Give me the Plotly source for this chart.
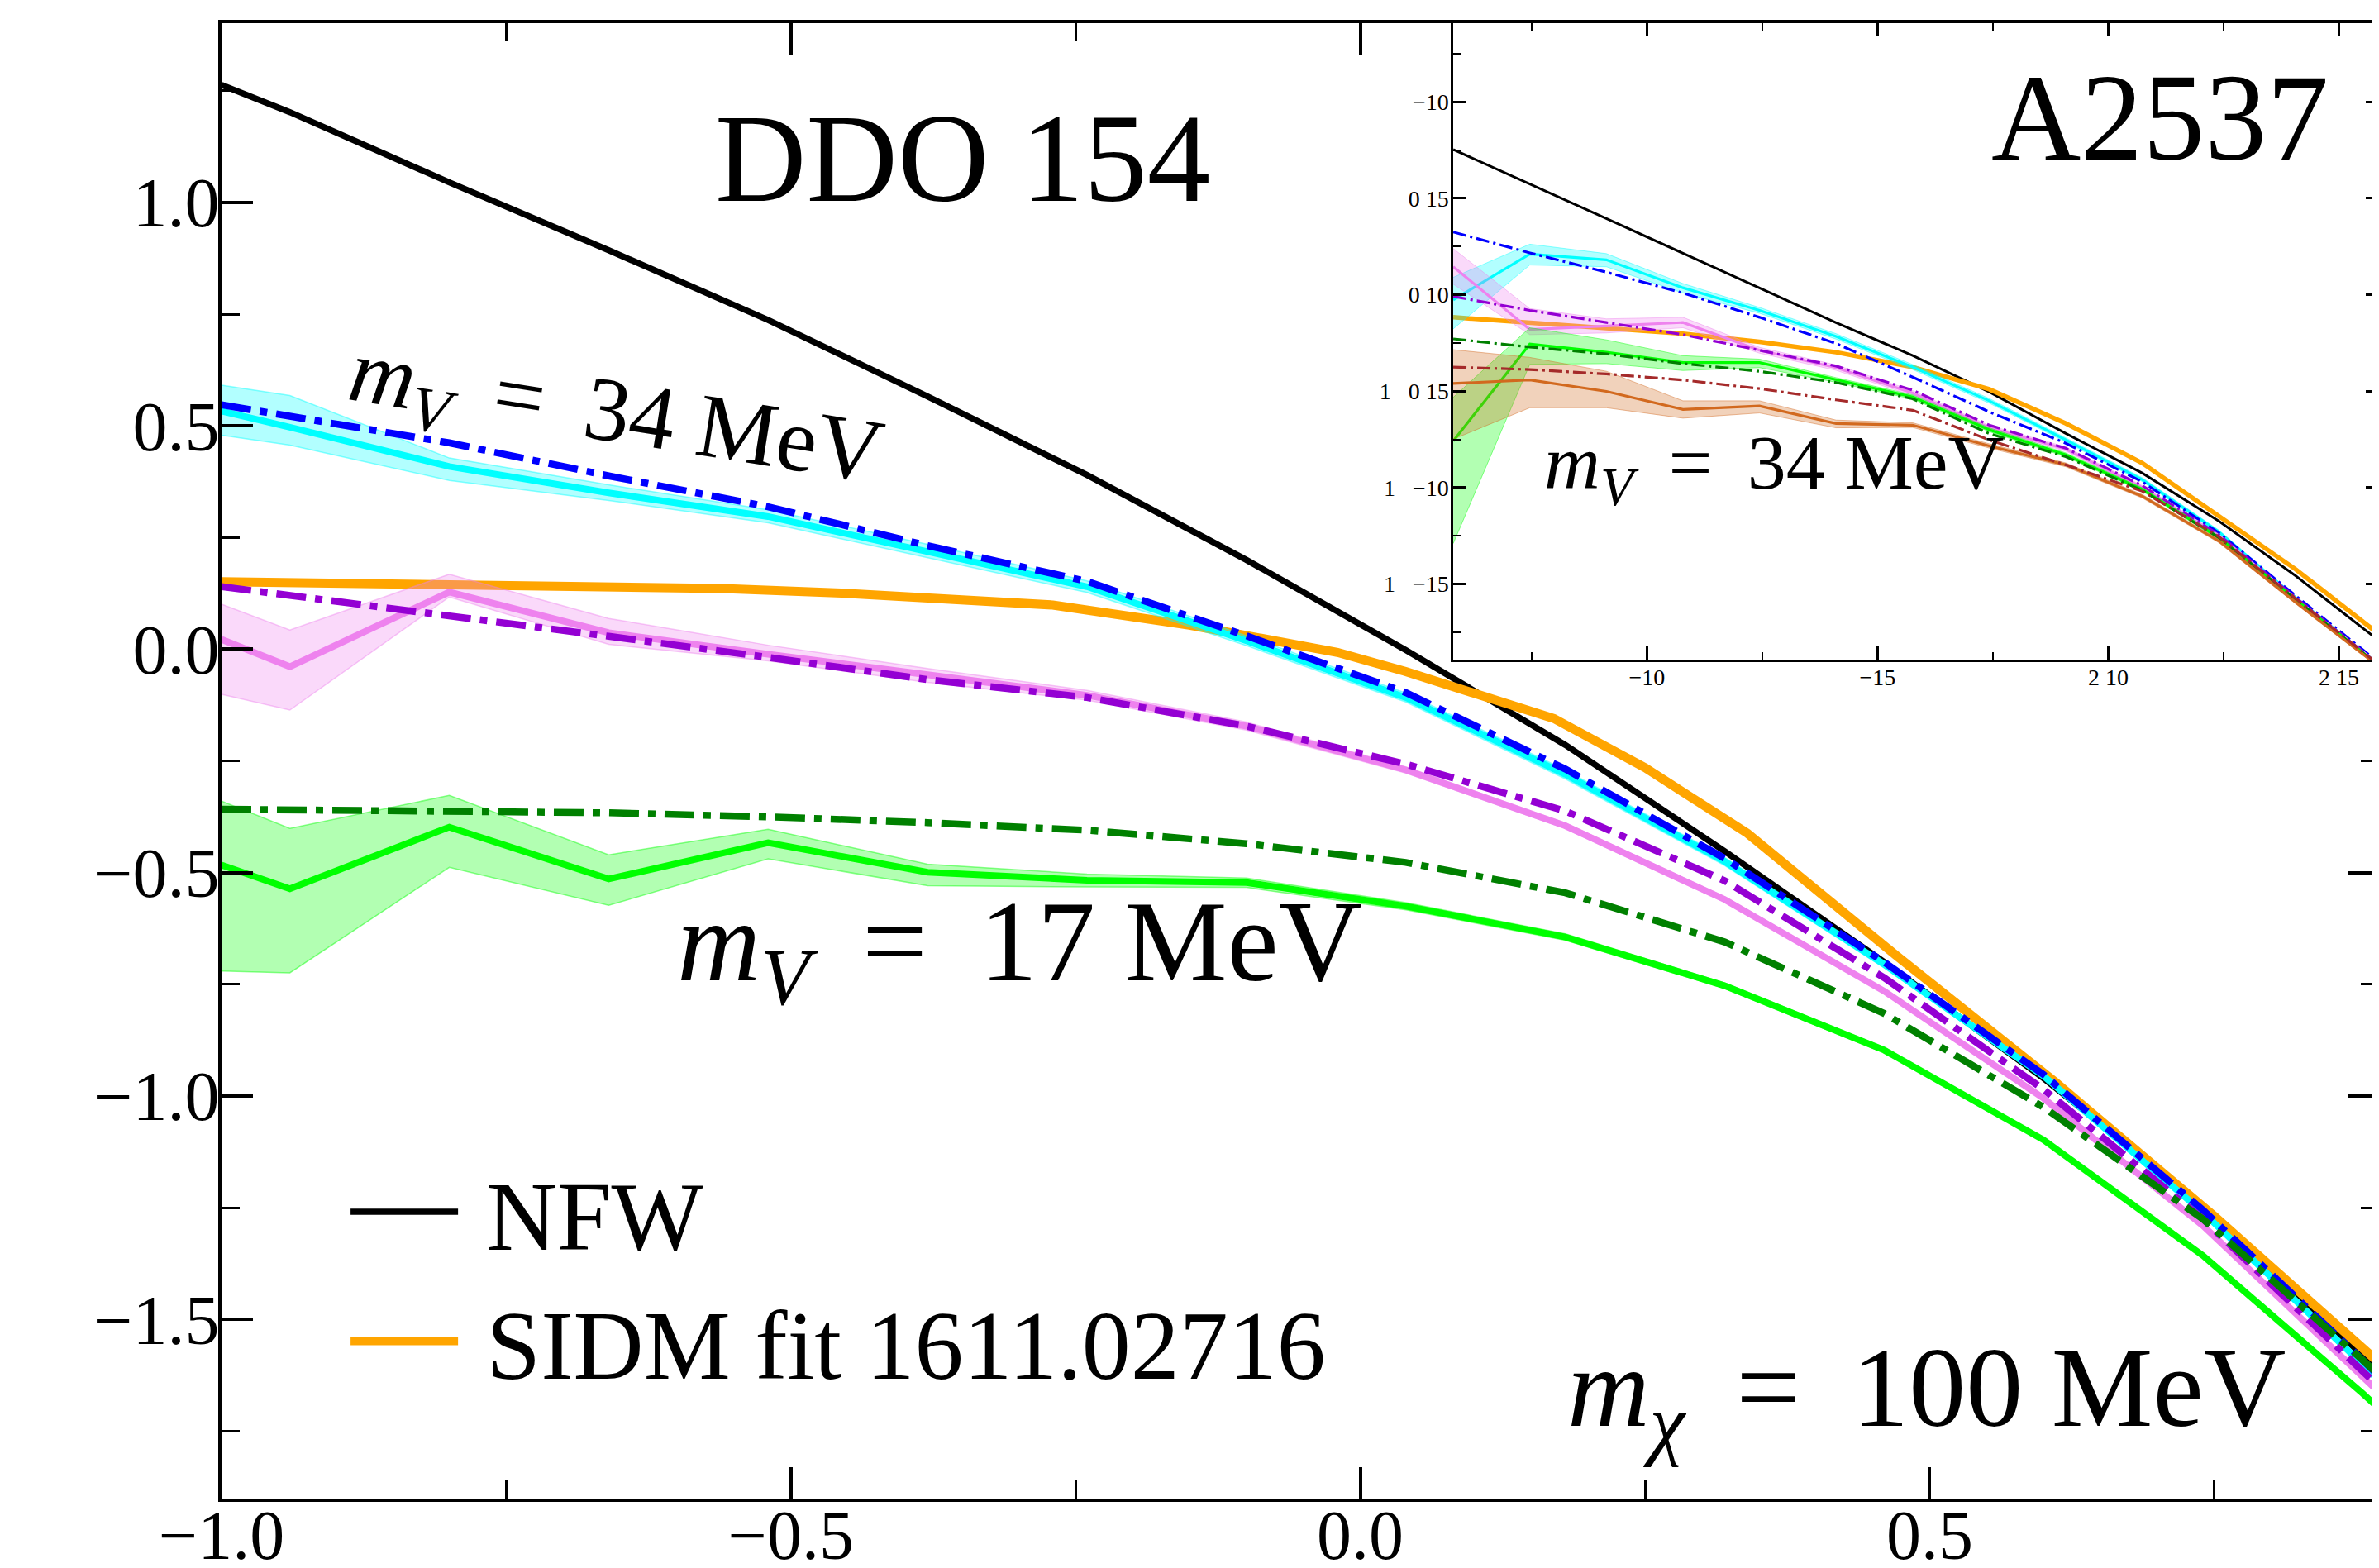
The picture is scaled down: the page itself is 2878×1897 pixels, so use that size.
import plotly.graph_objects as go

# ---------------- main panel : DDO 154 ----------------
x_main = [-1.0, -0.94, -0.80, -0.66, -0.52, -0.38, -0.24, -0.10, 0.04, 0.18, 0.32, 0.46, 0.60, 0.74, 0.88, 1.02]

nfw_main = [1.263, 1.202, 1.045, 0.893, 0.737, 0.566, 0.390, 0.200, -0.002, -0.214, -0.452, -0.700, -0.960, -1.245, -1.580, -1.920]

cyan_main = [0.533, 0.497, 0.409, 0.350, 0.297, 0.220, 0.140, 0.019, -0.108, -0.280, -0.475, -0.705, -0.955, -1.260, -1.600, -1.950]
cyan_hi = [0.591, 0.568, 0.428, 0.368, 0.312, 0.235, 0.153, 0.030, -0.098, -0.270, -0.466, -0.697, -0.948, -1.253, -1.594, -1.944]
cyan_lo = [0.479, 0.457, 0.378, 0.333, 0.283, 0.205, 0.127, 0.008, -0.118, -0.290, -0.484, -0.713, -0.962, -1.267, -1.606, -1.956]
blue_main = [0.547, 0.521, 0.462, 0.388, 0.319, 0.232, 0.152, 0.030, -0.097, -0.268, -0.468, -0.700, -0.952, -1.255, -1.590, -1.940]

pink_main = [0.022, -0.039, 0.128, 0.037, -0.011, -0.058, -0.103, -0.172, -0.270, -0.395, -0.560, -0.765, -1.005, -1.290, -1.625, -1.965]
pink_hi = [0.101, 0.043, 0.168, 0.069, 0.009, -0.043, -0.092, -0.163, -0.263, -0.389, -0.554, -0.760, -1.000, -1.285, -1.620, -1.960]
pink_lo = [-0.101, -0.136, 0.117, 0.011, -0.026, -0.074, -0.114, -0.181, -0.277, -0.401, -0.566, -0.770, -1.010, -1.295, -1.630, -1.970]
purple_main = [0.140, 0.121, 0.075, 0.029, -0.018, -0.068, -0.108, -0.172, -0.257, -0.362, -0.518, -0.735, -0.985, -1.275, -1.615, -1.955]

green_main = [-0.483, -0.536, -0.398, -0.514, -0.433, -0.499, -0.517, -0.522, -0.575, -0.644, -0.753, -0.897, -1.098, -1.357, -1.665, -1.990]
green_hi = [-0.340, -0.401, -0.327, -0.460, -0.403, -0.481, -0.503, -0.512, -0.567, -0.637, -0.747, -0.891, -1.093, -1.352, -1.660, -1.985]
green_lo = [-0.720, -0.724, -0.488, -0.573, -0.469, -0.529, -0.532, -0.533, -0.583, -0.651, -0.759, -0.903, -1.103, -1.362, -1.670, -1.995]
dkgreen_main = [-0.358, -0.359, -0.362, -0.366, -0.375, -0.388, -0.405, -0.435, -0.477, -0.545, -0.655, -0.815, -1.025, -1.275, -1.590, -1.920]

x_sidm_main = [-1.0, -0.80, -0.70, -0.56, -0.45, -0.35, -0.27, -0.15, -0.02, 0.04, 0.10, 0.17, 0.25, 0.34, 0.47, 0.61, 0.75, 0.89, 1.02]
sidm_main = [0.151, 0.142, 0.138, 0.136, 0.125, 0.112, 0.099, 0.054, -0.007, -0.050, -0.097, -0.155, -0.265, -0.412, -0.684, -0.968, -1.269, -1.590, -1.880]

# ---------------- inset : A2537 ----------------
x_ins = [0.58, 0.746, 0.912, 1.078, 1.244, 1.41, 1.576, 1.742, 1.908, 2.074, 2.24, 2.406, 2.572, 2.738]

nfw_ins = [0.753, 0.575, 0.395, 0.215, 0.035, -0.145, -0.315, -0.504, -0.719, -0.925, -1.174, -1.457, -1.766, -2.130]
sidm_ins = [-0.117, -0.144, -0.171, -0.202, -0.244, -0.298, -0.375, -0.490, -0.667, -0.873, -1.148, -1.423, -1.732, -2.070]

cyan_ins = [-0.027, 0.211, 0.181, 0.036, -0.081, -0.216, -0.375, -0.550, -0.753, -0.959, -1.230, -1.570, -1.890, -2.250]
cyan_ins_hi = [0.090, 0.262, 0.213, 0.058, -0.066, -0.202, -0.362, -0.538, -0.742, -0.949, -1.221, -1.562, -1.883, -2.243]
cyan_ins_lo = [-0.177, 0.154, 0.145, 0.009, -0.096, -0.230, -0.388, -0.562, -0.764, -0.969, -1.239, -1.578, -1.897, -2.257]
blue_ins = [0.325, 0.217, 0.117, 0.009, -0.117, -0.253, -0.427, -0.607, -0.770, -0.970, -1.235, -1.560, -1.880, -2.230]

pink_ins = [0.145, -0.180, -0.162, -0.144, -0.288, -0.378, -0.510, -0.690, -0.800, -1.000, -1.250, -1.575, -1.890, -2.250]
pink_ins_hi = [0.239, -0.072, -0.125, -0.117, -0.273, -0.364, -0.497, -0.678, -0.789, -0.990, -1.241, -1.567, -1.883, -2.243]
pink_ins_lo = [0.055, -0.207, -0.198, -0.171, -0.303, -0.392, -0.523, -0.702, -0.811, -1.010, -1.259, -1.583, -1.897, -2.257]
purple_ins = [-0.009, -0.081, -0.144, -0.207, -0.288, -0.370, -0.495, -0.676, -0.796, -0.990, -1.245, -1.570, -1.890, -2.250]

green_ins = [-0.758, -0.256, -0.298, -0.352, -0.352, -0.442, -0.530, -0.700, -0.830, -1.010, -1.260, -1.580, -1.895, -2.260]
green_ins_hi = [-0.532, -0.171, -0.234, -0.316, -0.334, -0.430, -0.519, -0.690, -0.820, -1.001, -1.251, -1.572, -1.888, -2.253]
green_ins_lo = [-1.290, -0.361, -0.357, -0.393, -0.378, -0.454, -0.541, -0.710, -0.840, -1.019, -1.269, -1.588, -1.902, -2.267]
dkgreen_ins = [-0.229, -0.271, -0.307, -0.357, -0.397, -0.455, -0.540, -0.720, -0.840, -1.015, -1.260, -1.580, -1.895, -2.260]

choc_ins = [-0.460, -0.442, -0.501, -0.595, -0.577, -0.668, -0.676, -0.784, -0.882, -1.045, -1.277, -1.594, -1.900, -2.270]
choc_ins_hi = [-0.285, -0.325, -0.397, -0.550, -0.550, -0.650, -0.664, -0.773, -0.872, -1.036, -1.268, -1.586, -1.893, -2.263]
choc_ins_lo = [-0.749, -0.586, -0.586, -0.640, -0.613, -0.690, -0.688, -0.795, -0.892, -1.054, -1.286, -1.602, -1.907, -2.277]
brown_ins = [-0.375, -0.388, -0.411, -0.442, -0.487, -0.545, -0.599, -0.753, -0.882, -1.019, -1.255, -1.575, -1.890, -2.250]

# ---------------- ticks ----------------
main_xticks = [-1.0, -0.5, 0.0, 0.5]
main_xticklabels = ["\u22121.0", "\u22120.5", "0.0", "0.5"]
main_xminor = [-0.75, -0.25, 0.25, 0.75]
main_yticks = [1.0, 0.5, 0.0, -0.5, -1.0, -1.5]
main_yticklabels = ["1.0", "0.5", "0.0", "\u22120.5", "\u22121.0", "\u22121.5"]
main_yminor = [1.25, 0.75, 0.25, -0.25, -0.75, -1.25, -1.75]

ins_xticks = [1.0, 1.5, 2.0, 2.5]
ins_xticklabels = ["\u221210", "\u221215", "2 10", "2 15"]
ins_xminor = [0.75, 1.25, 1.75, 2.25]
ins_yticks = [1.0, 0.5, 0.0, -0.5, -1.0, -1.5]
ins_yticklabels = ["\u221210", "0 15", "0 10", "1\u00a0\u00a0\u00a00 15", "1\u00a0\u00a0\u00a0\u221210", "1\u00a0\u00a0\u00a0\u221215"]
ins_yminor = [1.25, 0.75, 0.25, -0.25, -0.75, -1.25, -1.75]

FONT = "Liberation Serif"
DASHDOT_MAIN = "36px,11px,9px,11px"
DASHDOT_INS = "16px,5px,3px,5px"
TS = "\u2009"  # thin space, for TeX-like spacing around "="

fig = go.Figure()


def line(x, y, color, width, dash=None, xa="x", ya="y", name=None, legend=False):
    fig.add_trace(go.Scatter(
        x=x, y=y, mode="lines", name=name, showlegend=legend, hoverinfo="skip",
        line=dict(color=color, width=width, dash=dash), xaxis=xa, yaxis=ya))


def band(x, lo, hi, rgb, xa="x", ya="y", ew=1.5):
    fig.add_trace(go.Scatter(
        x=x, y=lo, mode="lines", showlegend=False, hoverinfo="skip",
        line=dict(color="rgba(%s,0.45)" % rgb, width=ew), xaxis=xa, yaxis=ya))
    fig.add_trace(go.Scatter(
        x=x, y=hi, mode="lines", showlegend=False, hoverinfo="skip", fill="tonexty",
        fillcolor="rgba(%s,0.30)" % rgb,
        line=dict(color="rgba(%s,0.45)" % rgb, width=ew), xaxis=xa, yaxis=ya))


# main panel traces
line(x_main, nfw_main, "black", 7.5, name="\u00a0NFW", legend=True)
line(x_sidm_main, sidm_main, "#ffa500", 11, name="\u00a0SIDM fit 1611.02716", legend=True)
band(x_main, cyan_lo, cyan_hi, "0,255,255")
line(x_main, cyan_main, "#00ffff", 8)
line(x_main, blue_main, "#0000ff", 8.5, DASHDOT_MAIN)
band(x_main, pink_lo, pink_hi, "238,130,238")
line(x_main, pink_main, "#ee82ee", 8)
line(x_main, purple_main, "#9400d3", 8.5, DASHDOT_MAIN)
band(x_main, green_lo, green_hi, "0,255,0")
line(x_main, green_main, "#00ff00", 8)
line(x_main, dkgreen_main, "#008000", 8.5, DASHDOT_MAIN)

# inset traces
XI, YI = "x2", "y2"
line(x_ins, nfw_ins, "black", 3, xa=XI, ya=YI)
line(x_ins, sidm_ins, "#ffa500", 5.5, xa=XI, ya=YI)
band(x_ins, cyan_ins_lo, cyan_ins_hi, "0,255,255", XI, YI, 1)
line(x_ins, cyan_ins, "#00ffff", 3.2, xa=XI, ya=YI)
line(x_ins, blue_ins, "#0000ff", 3.2, DASHDOT_INS, XI, YI)
band(x_ins, pink_ins_lo, pink_ins_hi, "238,130,238", XI, YI, 1)
line(x_ins, pink_ins, "#ee82ee", 3.2, xa=XI, ya=YI)
line(x_ins, purple_ins, "#9400d3", 3.2, DASHDOT_INS, XI, YI)
band(x_ins, green_ins_lo, green_ins_hi, "0,255,0", XI, YI, 1)
line(x_ins, green_ins, "#00ff00", 3.2, xa=XI, ya=YI)
line(x_ins, dkgreen_ins, "#008000", 3.2, DASHDOT_INS, XI, YI)
band(x_ins, choc_ins_lo, choc_ins_hi, "210,105,30", XI, YI, 1)
line(x_ins, choc_ins, "#d2691e", 3.2, xa=XI, ya=YI)
line(x_ins, brown_ins, "#a52a2a", 3.2, DASHDOT_INS, XI, YI)

common = dict(showgrid=False, zeroline=False, showline=True, linecolor="black", automargin=False,
              mirror="allticks", ticks="inside", tickcolor="black", tickmode="array")

# the page body adds an 8 px offset, so the margins are shifted by 8 px to compensate
fig.update_layout(
    width=2878, height=1897,
    margin=dict(l=260, r=8, t=20, b=92, autoexpand=False),
    paper_bgcolor="white", plot_bgcolor="white",
    font=dict(family=FONT, color="black"),
    xaxis=dict(domain=[0, 1], range=[-1.0, 0.8946], tickvals=main_xticks, ticktext=main_xticklabels,
               linewidth=3.5, tickwidth=3.5, ticklen=38, ticklabelstandoff=-32,
               tickfont=dict(family=FONT, size=84, color="black"),
               minor=dict(tickmode="array", tickvals=main_xminor, ticks="inside", ticklen=22,
                          tickwidth=3, tickcolor="black"), **common),
    yaxis=dict(domain=[0, 1], range=[-1.9007, 1.4012], tickvals=main_yticks, ticktext=main_yticklabels,
               linewidth=3.5, tickwidth=3.5, ticklen=38, ticklabelstandoff=-18,
               tickfont=dict(family=FONT, size=84, color="black"),
               minor=dict(tickmode="array", tickvals=main_yminor, ticks="inside", ticklen=22,
                          tickwidth=3, tickcolor="black"), **common),
    xaxis2=dict(domain=[0.5709, 1], anchor="y2", range=[0.58, 2.587], tickvals=ins_xticks,
                ticktext=ins_xticklabels, linewidth=2.5, tickwidth=2.5, ticklen=16, ticklabelstandoff=-5,
                tickfont=dict(family=FONT, size=28, color="black"),
                minor=dict(tickmode="array", tickvals=ins_xminor, ticks="inside", ticklen=9,
                           tickwidth=2, tickcolor="black"), **common),
    yaxis2=dict(domain=[0.5686, 1], anchor="x2", range=[-1.892, 1.408], tickvals=ins_yticks,
                ticktext=ins_yticklabels, linewidth=2.5, tickwidth=2.5, ticklen=16, ticklabelstandoff=-3,
                tickfont=dict(family=FONT, size=28, color="black"),
                minor=dict(tickmode="array", tickvals=ins_yminor, ticks="inside", ticklen=9,
                           tickwidth=2, tickcolor="black"), **common),
    legend=dict(x=0.0579, y=0.1505, xanchor="left", yanchor="middle", bgcolor="rgba(0,0,0,0)",
                traceorder="normal", font=dict(family=FONT, size=118, color="black"),
                itemwidth=130, tracegroupgap=0),
)

DX, DY = 0.0031, -0.0045
ann = [
    dict(text="DDO 154", x=0.3402, y=0.913, size=153, angle=0),
    dict(text="A2537", x=0.8954, y=0.9405, size=150, angle=0),
    dict(text="<i>m</i><sub><i>V</i></sub> " + TS + "=" + TS + " 17 MeV", x=0.367, y=0.377, size=140, angle=0),
    dict(text="<i>m</i><sub><i>\u03c7</i></sub> " + TS + "=" + TS + " 100 MeV", x=0.787, y=0.0745, size=138, angle=0),
    dict(text="<i>m</i><sub><i>V</i></sub> " + TS + "=" + TS + " 34 MeV", x=0.1795, y=0.7375, size=110, angle=9),
    dict(text="<i>m</i><sub><i>V</i></sub> " + TS + "=" + TS + " 34 MeV", x=0.7165, y=0.7032, size=94, angle=0),
]
for a in ann:
    fig.add_annotation(text=a["text"], x=a["x"] + DX, y=a["y"] + DY, xref="paper", yref="paper",
                       xanchor="center", yanchor="middle", showarrow=False, textangle=a["angle"],
                       font=dict(family=FONT, size=a["size"], color="black"))

fig.write_html("out.html")
